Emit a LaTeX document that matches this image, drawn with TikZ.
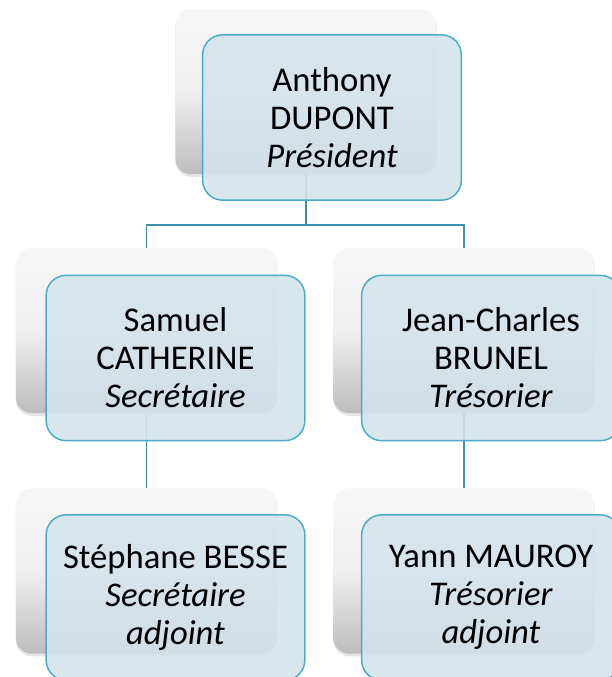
\documentclass[tikz,border=0pt]{standalone}
\usepackage{fontspec}
\setmainfont{Carlito}
\usetikzlibrary{
    shadows,
    positioning,
    calc
}
\definecolor{boxfill}{HTML}{D3E4EB}
\definecolor{boxline}{HTML}{4BACC6}
\definecolor{linkline}{HTML}{3A92AA}
\tikzset{
    backbox/.style={rounded corners=12, minimum width=196pt, minimum height=124pt,
        top color=white!97!black, bottom color=white!74!black, middle color=white!94!black,
        drop shadow={opacity=0.2, shadow xshift=0pt, shadow yshift=-2pt}},
    frontbox/.style={rounded corners=15, minimum width=194pt, minimum height=124pt,
        draw=boxline, line width=1.1pt, fill=boxfill, fill opacity=0.88, text opacity=1,
        align=center, font=\fontsize{26}{28.5}\selectfont},
    link/.style={draw=linkline, line width=1.2pt}
}
\begin{document}
\begin{tikzpicture}[x=0.75pt, y=-0.75pt]
    \useasboundingbox (0, 0) rectangle (611, 677);
    \coordinate (bus) at (306, 225);
    \node[backbox] (pres-back) at (306, 91.5) {};
    \node[backbox] (sec-back) at (146.5, 330.5) {};
    \node[backbox] (tres-back) at (464, 330.5) {};
    \node[backbox] (secadj-back) at (146.5, 571) {};
    \node[backbox] (tresadj-back) at (464, 571) {};
    \draw[link]
    (pres-back.south) -- (bus)
    (bus) -| (sec-back.north)
    (bus) -| (tres-back.north)
    (sec-back.south) -- (secadj-back.north)
    (tres-back.south) -- (tresadj-back.north);
    \node[frontbox] (pres) at (332, 117.5) {Anthony\\DUPONT\\\textit{Président}};
    \node[frontbox] (sec) at (175.5, 358) {Samuel\\CATHERINE\\\textit{Secrétaire}};
    \node[frontbox] (tres) at (491, 358) {Jean-Charles\\BRUNEL\\\textit{Trésorier}};
    \node[frontbox] (secadj) at (175.5, 597.5) {Stéphane BESSE\\\textit{Secrétaire}\\\textit{adjoint}};
    \node[frontbox] (tresadj) at (491, 597.5) {Yann MAUROY\\\textit{Trésorier}\\\textit{adjoint}};
\end{tikzpicture}
\end{document}
